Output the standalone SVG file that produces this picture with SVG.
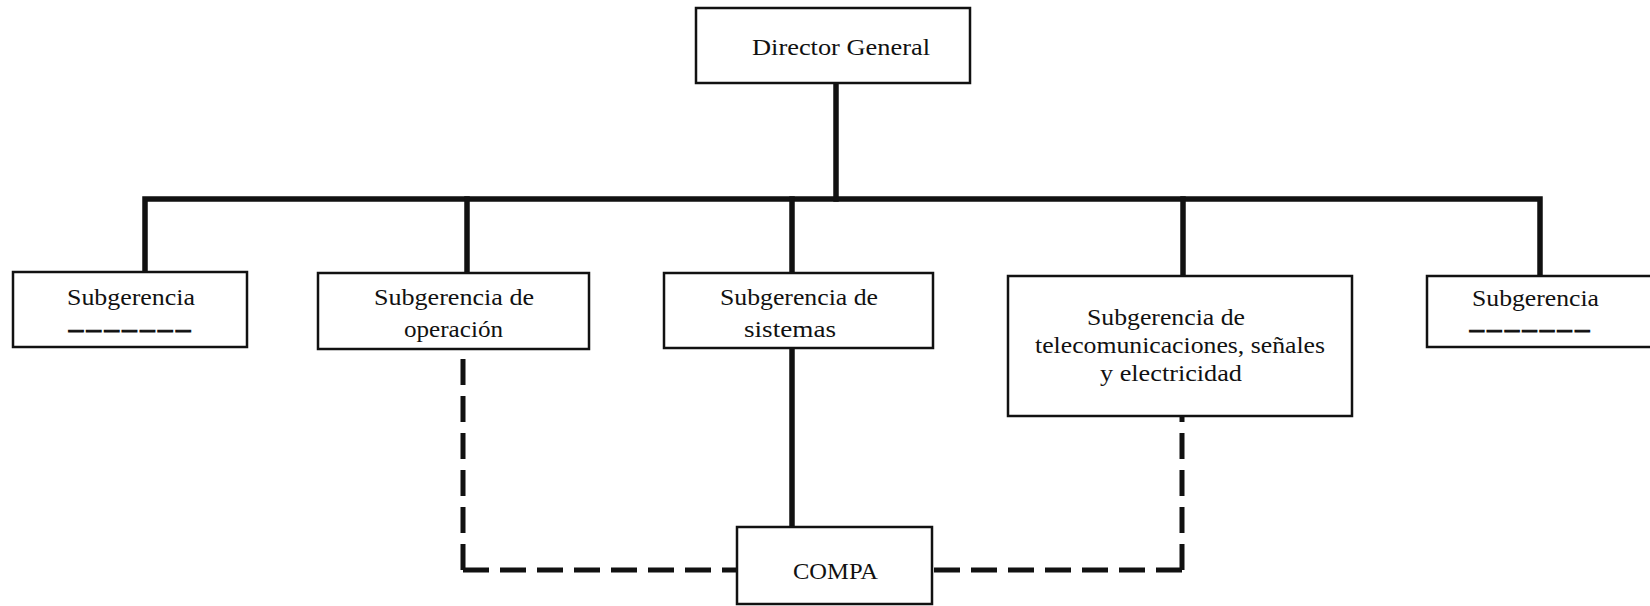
<svg xmlns="http://www.w3.org/2000/svg" width="1650" height="606" viewBox="0 0 1650 606">
<style>
.box{fill:#fff;stroke:#111;stroke-width:2.5}
.t{font-family:"Liberation Serif","Times New Roman",serif;font-size:24px;fill:#111}
.dash{font-family:"Liberation Serif","Times New Roman",serif;font-size:24px;fill:#111;stroke:#111;stroke-width:0.9}
.solid{fill:none;stroke:#111;stroke-width:5.5;stroke-linejoin:miter;stroke-linecap:square}
.dashed{fill:none;stroke:#111;stroke-width:5;stroke-dasharray:26 11}
</style>
<rect width="1650" height="606" fill="#fff"/>
<g id="connectors">
<path class="solid" d="M836 84 V199"/>
<path class="solid" d="M145 272 V199 H1540 V276"/>
<path class="solid" d="M467 199 V273"/>
<path class="solid" d="M792 199 V273"/>
<path class="solid" d="M1183 199 V276"/>
<path class="solid" d="M792 348 V527" style="stroke-linecap:butt"/>
<path class="dashed" d="M463 570 V349"/>
<path class="dashed" d="M463 570 H737"/>
<path class="dashed" d="M1182 570 V416"/>
<path class="dashed" d="M1182 570 H932"/>
</g>
<g id="director">
<rect class="box" x="696" y="8" width="274" height="75"/>
<text class="t" x="752" y="55" textLength="178" lengthAdjust="spacingAndGlyphs">Director General</text>
</g>
<g id="subgerencia-1">
<rect class="box" x="13" y="272" width="234" height="75"/>
<text class="t" x="67" y="305" textLength="128" lengthAdjust="spacingAndGlyphs">Subgerencia</text>
<text class="dash" x="67" y="337" textLength="125" lengthAdjust="spacingAndGlyphs">-------</text>
</g>
<g id="subgerencia-operacion">
<rect class="box" x="318" y="273" width="271" height="76"/>
<text class="t" x="374" y="305" textLength="160" lengthAdjust="spacingAndGlyphs">Subgerencia de</text>
<text class="t" x="404" y="337" textLength="99" lengthAdjust="spacingAndGlyphs">operación</text>
</g>
<g id="subgerencia-sistemas">
<rect class="box" x="664" y="273" width="269" height="75"/>
<text class="t" x="720" y="305" textLength="158" lengthAdjust="spacingAndGlyphs">Subgerencia de</text>
<text class="t" x="744" y="337" textLength="92" lengthAdjust="spacingAndGlyphs">sistemas</text>
</g>
<g id="subgerencia-telecom">
<rect class="box" x="1008" y="276" width="344" height="140"/>
<text class="t" x="1087" y="325" textLength="158" lengthAdjust="spacingAndGlyphs">Subgerencia de</text>
<text class="t" x="1035" y="353" textLength="290" lengthAdjust="spacingAndGlyphs">telecomunicaciones, señales</text>
<text class="t" x="1100" y="381" textLength="142" lengthAdjust="spacingAndGlyphs">y electricidad</text>
</g>
<g id="subgerencia-5">
<rect class="box" x="1427" y="276" width="240" height="71"/>
<text class="t" x="1472" y="306" textLength="127" lengthAdjust="spacingAndGlyphs">Subgerencia</text>
<text class="dash" x="1468" y="337" textLength="123" lengthAdjust="spacingAndGlyphs">-------</text>
</g>
<g id="compa">
<rect class="box" x="737" y="527" width="195" height="77"/>
<text class="t" x="793" y="579" textLength="85" lengthAdjust="spacingAndGlyphs">COMPA</text>
</g>
</svg>
